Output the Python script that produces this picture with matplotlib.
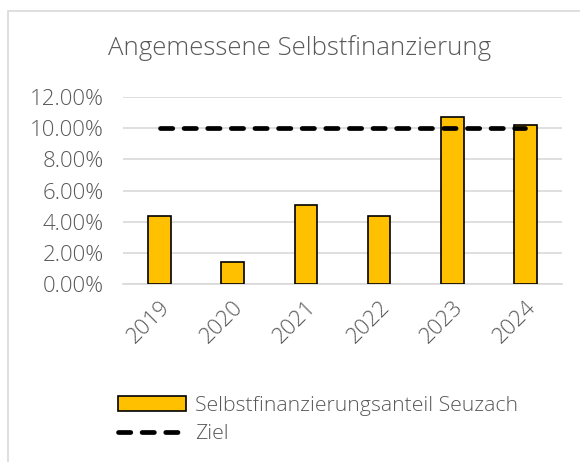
import matplotlib
matplotlib.use("Agg")
import matplotlib.pyplot as plt
from matplotlib.patches import Rectangle
from matplotlib.ticker import PercentFormatter

# Daten
jahre = ["2019", "2020", "2021", "2022", "2023", "2024"]
anteil = [0.044, 0.014, 0.0505, 0.044, 0.107, 0.102]
ziel = [0.10, 0.10, 0.10, 0.10, 0.10, 0.10]

grau = "#595959"
plt.rcParams["font.family"] = ["Open Sans", "DejaVu Sans"]
plt.rcParams["font.weight"] = "light"

fig = plt.figure(figsize=(5.8, 4.62), dpi=100)
ax = fig.add_axes([0.212, 0.385, 0.757, 0.405])

x = range(len(jahre))
balken = ax.bar(x, anteil, width=0.31, color="#FFC000", edgecolor="black", linewidth=1.2,
                label="Selbstfinanzierungsanteil Seuzach", zorder=3)
linie, = ax.plot(x, ziel, color="black", linewidth=3.4, dashes=(2.6, 2.4),
                 dash_capstyle="round", label="Ziel", zorder=4)

ax.set_ylim(0, 0.12)
ax.set_xlim(-0.5, len(jahre) - 0.5)
ax.set_yticks([0, 0.02, 0.04, 0.06, 0.08, 0.10, 0.12])
ax.yaxis.set_major_formatter(PercentFormatter(1.0, decimals=2))
ax.set_xticks(list(x))
ax.set_xticklabels(jahre, rotation=45, ha="right", rotation_mode="anchor")

ax.grid(axis="y", color="#d9d9d9", linewidth=1.2, zorder=0)
for s in ["top", "right", "left"]:
    ax.spines[s].set_visible(False)
ax.spines["bottom"].set_color("#d9d9d9")
ax.spines["bottom"].set_linewidth(1.2)
ax.tick_params(length=0, labelsize=16, colors=grau)
ax.tick_params(axis="y", pad=14)
ax.tick_params(axis="x", pad=9)

fig.text(0.517, 0.897, "Angemessene Selbstfinanzierung", ha="center", va="center",
         fontsize=18.5, color=grau)

leg = fig.legend([balken, linie], ["Selbstfinanzierungsanteil Seuzach", "Ziel"],
                 loc="upper left", bbox_to_anchor=(0.203, 0.143), frameon=False,
                 fontsize=15.3, handlelength=3.2, handletextpad=0.45, labelspacing=0.4,
                 borderaxespad=0, borderpad=0)
for t in leg.get_texts():
    t.set_color(grau)

# Rahmen des Diagramms
fig.patches.append(Rectangle((8 / 580, -0.1), 1.2, 1 - 11 / 462 + 0.1,
                             transform=fig.transFigure, fill=False,
                             edgecolor="#d9d9d9", linewidth=1.2))

fig.savefig("out.png", dpi=100)
